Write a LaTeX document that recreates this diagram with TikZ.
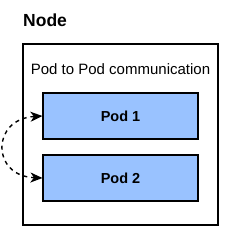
\documentclass[tikz,border=0pt]{standalone}
\usepackage{fontspec}
\setmainfont{Liberation Sans}
\usetikzlibrary{arrows.meta}
\definecolor{podblue}{RGB}{153,194,255}
\begin{document}
\begin{tikzpicture}[x=1pt,y=-1pt,
  podbox/.style={draw=black, line width=1.1pt, fill=podblue, minimum width=155pt, minimum height=46pt, inner sep=0pt, font=\fontsize{14.5}{16}\selectfont\bfseries},
  hostbox/.style={draw=black, line width=1.1pt, minimum width=195pt, minimum height=181pt, inner sep=0pt},
  link/.style={line width=1.4pt, dash pattern=on 4pt off 4pt, {Stealth[length=12pt,width=10pt,inset=3.5pt]}-{Stealth[length=12pt,width=10pt,inset=3.5pt]}}]
\useasboundingbox (0,0) rectangle (227,233);
\node[font=\fontsize{17.5}{20}\selectfont\bfseries, anchor=west, inner sep=0pt] (title) at (23,20.5) {Node};
\node[hostbox] (host) at (120.5,134.5) {};
\node[font=\fontsize{15}{18}\selectfont, inner sep=0pt] (label) at (120.5,69.5) {Pod to Pod communication};
\node[podbox] (pod1) at (120.5,116) {Pod 1};
\node[podbox] (pod2) at (120.5,178) {Pod 2};
\draw[link] (pod1.west) .. controls (-9,119) and (-9,176) .. (pod2.west);
\end{tikzpicture}
\end{document}
